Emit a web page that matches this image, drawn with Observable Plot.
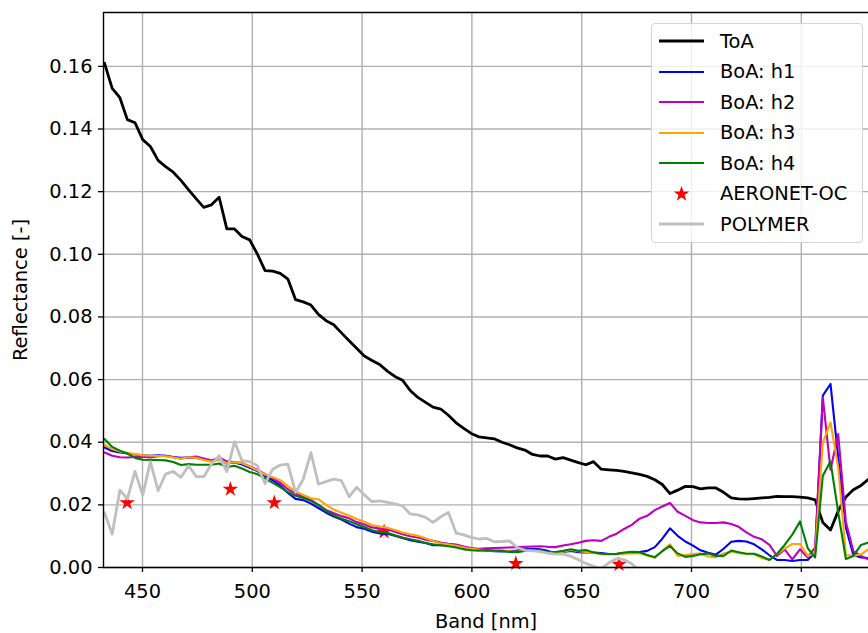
<!DOCTYPE html>
<html><head><meta charset="utf-8">
<script src="https://cdn.jsdelivr.net/npm/d3@7"></script>
<script src="https://cdn.jsdelivr.net/npm/@observablehq/plot@0.6"></script>
<style>
body{margin:0;background:#fff;font-family:"DejaVu Sans",sans-serif;}
#wrap{position:relative;width:868px;height:633px;overflow:hidden;}
#legend{position:absolute;left:651px;top:23px;width:212px;height:220px;background:rgba(255,255,255,0.8);border:1px solid #d4d4d4;border-radius:4px;box-sizing:border-box;font-size:19.4px;color:#000;}
#legend .row{position:absolute;left:0;height:30px;display:flex;align-items:center;}
#legend svg{display:block;}
</style></head><body><div id="wrap"></div>
<script>
const bands = [432.7,436.2,439.7,443.1,446.6,450.1,453.6,457.1,460.5,464.0,467.5,471.0,474.5,477.9,481.4,484.9,488.4,491.9,495.3,498.8,502.3,505.8,509.3,512.7,516.2,519.7,523.2,526.7,530.1,533.6,537.1,540.6,544.1,547.5,551.0,554.5,558.0,561.5,564.9,568.4,571.9,575.4,578.9,582.3,585.8,589.3,592.8,596.3,599.7,603.2,606.7,610.2,613.7,617.1,620.6,624.1,627.6,631.1,634.5,638.0,641.5,645.0,648.5,651.9,655.4,658.9,662.4,665.9,669.3,672.8,676.3,679.8,683.3,686.7,690.2,693.7,697.2,700.7,704.1,707.6,711.1,714.6,718.1,721.5,725.0,728.5,732.0,735.5,738.9,742.4,745.9,749.4,752.9,756.3,759.8,763.3,766.8,770.3,773.7,777.2,780.7];

const toa = [0.1610,0.1530,0.1500,0.1430,0.1420,0.1366,0.1344,0.1300,0.1280,0.1262,
0.1236,0.1206,0.1177,0.1150,0.1158,0.1182,0.1081,0.1081,0.1057,0.1046,
0.1001,0.0948,0.0946,0.0939,0.0921,0.0855,0.0848,0.0838,0.0808,0.0788,
0.0775,0.0749,0.0724,0.0700,0.0675,0.0661,0.0648,0.0627,0.0610,0.0598,
0.0565,0.0543,0.0527,0.0512,0.0506,0.0486,0.0462,0.0444,0.0428,0.0417,
0.0414,0.0411,0.0400,0.0392,0.0382,0.0375,0.0361,0.0356,0.0356,0.0346,
0.0351,0.0343,0.0335,0.0328,0.0338,0.0314,0.0312,0.0310,0.0307,0.0302,
0.0297,0.0291,0.0280,0.0265,0.0236,0.0247,0.0259,0.0258,0.0251,0.0254,
0.0254,0.0240,0.0222,0.0219,0.0218,0.0220,0.0222,0.0224,0.0227,0.0226,
0.0226,0.0225,0.0222,0.0216,0.0144,0.0120,0.0180,0.0225,0.0248,0.0262,
0.0282];

const boaH1 = [0.0383,0.0372,0.0367,0.0364,0.0361,0.0358,0.0357,0.0358,0.0357,0.0353,
0.0350,0.0351,0.0350,0.0346,0.0339,0.0346,0.0332,0.0335,0.0329,0.0318,
0.0308,0.0293,0.0278,0.0262,0.0238,0.0219,0.0215,0.0204,0.0190,0.0175,
0.0163,0.0153,0.0140,0.0129,0.0124,0.0114,0.0109,0.0108,0.0101,0.0094,
0.0087,0.0082,0.0078,0.0071,0.0071,0.0071,0.0066,0.0062,0.0059,0.0056,
0.0054,0.0052,0.0051,0.0052,0.0054,0.0058,0.0060,0.0058,0.0053,0.0046,
0.0050,0.0053,0.0049,0.0048,0.0048,0.0046,0.0043,0.0044,0.0046,0.0047,
0.0049,0.0053,0.0065,0.0092,0.0125,0.0101,0.0083,0.0070,0.0055,0.0047,
0.0041,0.0060,0.0082,0.0085,0.0083,0.0074,0.0058,0.0039,0.0024,0.0024,
0.0021,0.0024,0.0024,0.0048,0.0549,0.0586,0.0351,0.0128,0.0040,0.0032,
0.0030];

const boaH2 = [0.0367,0.0357,0.0352,0.0351,0.0353,0.0354,0.0351,0.0355,0.0357,0.0352,
0.0348,0.0352,0.0354,0.0348,0.0342,0.0351,0.0339,0.0336,0.0334,0.0323,
0.0312,0.0298,0.0285,0.0270,0.0250,0.0236,0.0225,0.0216,0.0200,0.0184,
0.0173,0.0164,0.0157,0.0145,0.0137,0.0128,0.0125,0.0122,0.0114,0.0106,
0.0100,0.0096,0.0089,0.0085,0.0080,0.0076,0.0073,0.0067,0.0062,0.0060,
0.0061,0.0062,0.0063,0.0064,0.0065,0.0066,0.0067,0.0068,0.0066,0.0065,
0.0070,0.0074,0.0079,0.0085,0.0087,0.0085,0.0098,0.0108,0.0123,0.0136,
0.0156,0.0165,0.0183,0.0195,0.0206,0.0178,0.0165,0.0151,0.0144,0.0142,
0.0142,0.0144,0.0139,0.0130,0.0112,0.0098,0.0090,0.0072,0.0037,0.0058,
0.0026,0.0058,0.0032,0.0064,0.0543,0.0312,0.0426,0.0145,0.0052,0.0037,
0.0025];

const boaH3 = [0.0392,0.0378,0.0370,0.0366,0.0362,0.0358,0.0357,0.0356,0.0355,0.0351,
0.0347,0.0352,0.0350,0.0343,0.0338,0.0344,0.0333,0.0336,0.0333,0.0322,
0.0310,0.0297,0.0288,0.0279,0.0260,0.0243,0.0232,0.0221,0.0218,0.0200,
0.0185,0.0175,0.0166,0.0155,0.0146,0.0136,0.0131,0.0127,0.0120,0.0112,
0.0106,0.0101,0.0093,0.0085,0.0077,0.0073,0.0069,0.0064,0.0060,0.0057,
0.0055,0.0054,0.0055,0.0052,0.0050,0.0054,0.0055,0.0052,0.0046,0.0046,
0.0050,0.0056,0.0052,0.0050,0.0047,0.0042,0.0042,0.0043,0.0044,0.0045,
0.0046,0.0038,0.0031,0.0053,0.0074,0.0037,0.0040,0.0043,0.0045,0.0035,
0.0033,0.0045,0.0051,0.0046,0.0044,0.0043,0.0030,0.0025,0.0043,0.0060,
0.0075,0.0075,0.0037,0.0045,0.0398,0.0463,0.0320,0.0040,0.0037,0.0042,
0.0059];

const boaH4 = [0.0410,0.0385,0.0373,0.0364,0.0350,0.0344,0.0343,0.0343,0.0342,0.0337,
0.0327,0.0330,0.0328,0.0328,0.0328,0.0332,0.0321,0.0325,0.0316,0.0305,
0.0298,0.0285,0.0270,0.0257,0.0241,0.0229,0.0222,0.0212,0.0200,0.0181,
0.0167,0.0156,0.0148,0.0138,0.0129,0.0119,0.0113,0.0111,0.0103,0.0096,
0.0090,0.0085,0.0078,0.0074,0.0071,0.0068,0.0064,0.0058,0.0055,0.0054,
0.0056,0.0054,0.0053,0.0050,0.0049,0.0053,0.0055,0.0056,0.0049,0.0049,
0.0053,0.0058,0.0053,0.0056,0.0048,0.0044,0.0043,0.0043,0.0048,0.0050,
0.0049,0.0040,0.0033,0.0052,0.0069,0.0045,0.0034,0.0037,0.0042,0.0045,
0.0037,0.0037,0.0054,0.0049,0.0044,0.0044,0.0035,0.0024,0.0043,0.0072,
0.0105,0.0147,0.0062,0.0032,0.0293,0.0339,0.0176,0.0027,0.0037,0.0072,
0.0080];

// POLYMER: visible only up to ~639 nm (negative afterwards, clipped)
const polymer = [0.0175,0.0107,0.0247,0.0219,0.0307,0.0231,0.0338,0.0245,0.0298,0.0307,
0.0288,0.0325,0.0290,0.0290,0.0330,0.0357,0.0306,0.0402,0.0341,0.0338,
0.0325,0.0268,0.0314,0.0327,0.0330,0.0240,0.0282,0.0367,0.0266,0.0274,
0.0282,0.0277,0.0226,0.0256,0.0232,0.0210,0.0213,0.0208,0.0203,0.0197,
0.0171,0.0168,0.0160,0.0144,0.0162,0.0176,0.0110,0.0104,0.0096,0.0091,
0.0093,0.0082,0.0083,0.0085,0.0064,0.0055,0.0053,0.0051,0.0046,0.0043,
0.0043,0.0036,0.0025,0.0013,0.0004,-0.0003,0.0015,0.0028,0.0025,0.0012,
-0.0010];

const aeronetBands = [443, 490, 510, 560, 620, 667];
const aeronetValues = [0.0207, 0.0250, 0.0207, 0.0114, 0.0013, 0.0010];

const xTicks = [450, 500, 550, 600, 650, 700, 750];
const yTicks = [0, 0.02, 0.04, 0.06, 0.08, 0.10, 0.12, 0.14, 0.16];

const series = [
  {name: "ToA", values: toa, color: "#000000", width: 2.8},
  {name: "BoA: h1", values: boaH1, color: "#0000ff", width: 2.1},
  {name: "BoA: h2", values: boaH2, color: "#bf00bf", width: 2.1},
  {name: "BoA: h3", values: boaH3, color: "#ffa500", width: 2.1},
  {name: "BoA: h4", values: boaH4, color: "#008000", width: 2.1},
  {name: "POLYMER", values: polymer, color: "#bfbfbf", width: 2.8}
];

const rowsOf = (vals) => vals.map((v, i) => ({band: bands[i], value: v}));
const aeronet = aeronetBands.map((b, i) => ({band: b, value: aeronetValues[i]}));

const xMin = 432.24, xMax = 780.6, yMax = 0.1772;

const lineMarks = series.map(s => Plot.line(rowsOf(s.values), {
  x: "band", y: "value", stroke: s.color, strokeWidth: s.width, clip: true, strokeLinejoin: "round"
}));

const chart = Plot.plot({
  width: 868, height: 633,
  marginLeft: 103, marginRight: 0, marginTop: 12, marginBottom: 66,
  style: {fontFamily: "DejaVu Sans", fontSize: "19.4px", background: "white", color: "black", overflow: "visible"},
  x: {domain: [xMin, xMax]},
  y: {domain: [0, yMax]},
  marks: [
    Plot.gridX(xTicks, {stroke: "#b0b0b0", strokeOpacity: 1, strokeWidth: 1.4}),
    Plot.gridY(yTicks, {stroke: "#b0b0b0", strokeOpacity: 1, strokeWidth: 1.4}),
    Plot.dot(aeronet, {x: "band", y: "value", symbol: "star", fill: "#ff0000", stroke: "none", r: 4.9}),
    ...lineMarks,
    Plot.axisX(xTicks, {tickSize: 5, tickPadding: 12, fontSize: 19.4, label: "Band [nm]", labelAnchor: "center", labelArrow: "none", labelOffset: 60, strokeWidth: 1.3}),
    Plot.axisY(yTicks, {tickSize: 5, tickPadding: 6, fontSize: 19.4, tickFormat: d3.format(".2f"), label: "Reflectance [-]", labelAnchor: "center", labelArrow: "none", labelOffset: 90, strokeWidth: 1.3}),
    Plot.ruleX([xMin], {stroke: "black", strokeWidth: 1.4}),
    Plot.ruleY([0, yMax], {stroke: "black", strokeWidth: 1.4})
  ]
});

const wrap = document.getElementById("wrap");
wrap.appendChild(chart);

// Legend overlay
const legend = document.createElement("div");
legend.id = "legend";
const legendItems = [
  {name: "ToA", type: "line", color: "#000000", width: 2.8},
  {name: "BoA: h1", type: "line", color: "#0000ff", width: 2.1},
  {name: "BoA: h2", type: "line", color: "#bf00bf", width: 2.1},
  {name: "BoA: h3", type: "line", color: "#ffa500", width: 2.1},
  {name: "BoA: h4", type: "line", color: "#008000", width: 2.1},
  {name: "AERONET-OC", type: "star", color: "#ff0000"},
  {name: "POLYMER", type: "line", color: "#bfbfbf", width: 2.8}
];
const starPath = d3.symbol(d3.symbolStar, Math.PI * 4.9 * 4.9)();
legendItems.forEach((it, i) => {
  const row = document.createElement("div");
  row.className = "row";
  row.style.top = (17 + i * 30.55 - 15) + "px";
  let sw;
  if (it.type === "line") {
    sw = `<svg width="68" height="30"><line x1="7" x2="52" y1="15" y2="15" stroke="${it.color}" stroke-width="${it.width}"/></svg>`;
  } else {
    sw = `<svg width="68" height="30"><path d="${starPath}" transform="translate(29.5,15)" fill="${it.color}"/></svg>`;
  }
  row.innerHTML = sw + `<span>${it.name}</span>`;
  legend.appendChild(row);
});
wrap.appendChild(legend);
</script>
</body></html>
